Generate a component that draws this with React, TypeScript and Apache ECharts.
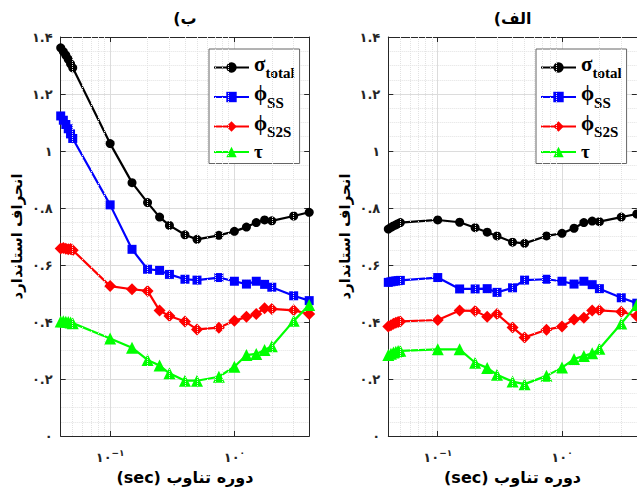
import React, { useEffect, useRef } from "react";
import * as echarts from "echarts";

// Periods (sec)
const periods = [0.04, 0.042, 0.044, 0.046, 0.048, 0.05, 0.1, 0.15, 0.2, 0.25, 0.3, 0.4, 0.5, 0.75, 1, 1.25, 1.5, 1.75, 2, 3, 4];

// Panel "ب" (left)
const sigmaB = [1.362, 1.349, 1.336, 1.322, 1.306, 1.292, 1.026, 0.889, 0.819, 0.768, 0.739, 0.706, 0.69, 0.704, 0.718, 0.733, 0.749, 0.758, 0.755, 0.772, 0.785];
const phiSSB = [1.123, 1.108, 1.093, 1.078, 1.06, 1.044, 0.811, 0.655, 0.585, 0.581, 0.567, 0.55, 0.547, 0.556, 0.543, 0.533, 0.543, 0.532, 0.522, 0.492, 0.475];
const phiS2SB = [0.658, 0.66, 0.657, 0.655, 0.656, 0.652, 0.526, 0.515, 0.509, 0.44, 0.421, 0.402, 0.374, 0.38, 0.404, 0.418, 0.428, 0.448, 0.446, 0.441, 0.428];
const tauB = [0.402, 0.403, 0.401, 0.4, 0.398, 0.396, 0.342, 0.31, 0.267, 0.247, 0.22, 0.194, 0.194, 0.208, 0.243, 0.284, 0.288, 0.302, 0.315, 0.404, 0.46];

// Panel "الف" (right)
const sigmaA = [0.726, 0.732, 0.737, 0.741, 0.745, 0.749, 0.758, 0.75, 0.731, 0.715, 0.702, 0.68, 0.676, 0.702, 0.711, 0.729, 0.749, 0.754, 0.752, 0.768, 0.779];
const phiSSA = [0.539, 0.541, 0.543, 0.544, 0.545, 0.546, 0.556, 0.516, 0.516, 0.517, 0.504, 0.52, 0.547, 0.55, 0.543, 0.533, 0.543, 0.531, 0.517, 0.485, 0.466];
const phiS2SA = [0.384, 0.389, 0.394, 0.397, 0.4, 0.402, 0.407, 0.44, 0.439, 0.418, 0.428, 0.381, 0.346, 0.373, 0.384, 0.409, 0.415, 0.44, 0.441, 0.436, 0.421];
const tauA = [0.284, 0.289, 0.293, 0.296, 0.298, 0.299, 0.304, 0.304, 0.257, 0.239, 0.215, 0.191, 0.182, 0.211, 0.24, 0.27, 0.281, 0.29, 0.306, 0.395, 0.46];

// Minor vertical grid positions (log decades 2..9)
const minorX = [0.05, 0.06, 0.07, 0.08, 0.09, 0.2, 0.3, 0.4, 0.5, 0.6, 0.7, 0.8, 0.9, 2, 3];

const seriesNames = ["sigma", "phiSS", "phiS2S", "tau"];
const seriesColors = ["#000000", "#0000ff", "#ff0000", "#00ff00"];
const seriesSymbols = ["circle", "rect", "diamond", "triangle"];
const seriesSymbolSizes = [9, 9, 12, 12];

const titles = ["(ب", "(الف"];
const yName = "انحراف استاندارد";
const xName = "(sec) دوره تناوب";

const faDigits = "۰۱۲۳۴۵۶۷۸۹";
const toFa = (s: string) => s.replace(/[0-9]/g, (d) => faDigits[+d]);

const FA_FONT = "'DejaVu Sans', sans-serif";
const SERIF = "'Liberation Serif', serif";

export default function App() {
  const ref = useRef<HTMLDivElement>(null);
  useEffect(() => {
    if (!ref.current) return;
    const chart = echarts.init(ref.current, null, { renderer: "svg" });

    const panels = [
      { data: [sigmaB, phiSSB, phiS2SB, tauB], left: 60.7, legendLeft: 209 },
      { data: [sigmaA, phiSSA, phiS2SA, tauA], left: 388.3, legendLeft: 536 },
    ];
    const gw = 248.5;
    const gTop = 37;
    const gH = 399;

    const grids: any[] = [];
    const xAxes: any[] = [];
    const yAxes: any[] = [];
    const series: any[] = [];
    const legends: any[] = [];
    const graphics: any[] = [];

    const xLabelFmt = (v: number) => {
      const l = Math.log10(v);
      const e = Math.round(l);
      if (Math.abs(l - e) > 1e-6) return "";
      return "{b|۱۰}{sup|" + (e < 0 ? "−" : "") + toFa(String(Math.abs(e))) + "}";
    };
    const yLabelFmt = (v: number) => toFa(String(Math.round(v * 10) / 10));

    const legendFmt = (name: string) => {
      if (name === "sigma") return "{m|σ}{s|total}";
      if (name === "phiSS") return "{m|ϕ}{s|SS}";
      if (name === "phiS2S") return "{m|ϕ}{s|S2S}";
      return "{t|τ}";
    };

    panels.forEach((p, gi) => {
      grids.push({ left: p.left, top: gTop, width: gw, height: gH, containLabel: false });
      const axisLine = { show: true, onZero: false, lineStyle: { color: "#262626", width: 1 } };
      xAxes.push({
        type: "log",
        gridIndex: gi,
        position: "bottom",
        min: 0.04,
        max: 4,
        logBase: 10,
        axisLine,
        axisTick: { show: true, inside: true, length: 5, lineStyle: { color: "#262626" } },
        axisLabel: {
          show: true,
          showMinLabel: false,
          showMaxLabel: false,
          margin: 12,
          formatter: xLabelFmt,
          rich: {
            b: { fontFamily: FA_FONT, fontWeight: "bold", fontSize: 13, color: "#262626" },
            sup: { fontFamily: FA_FONT, fontWeight: "bold", fontSize: 9, color: "#262626", padding: [0, 0, 9, 0] },
          },
        },
        splitLine: { show: true, lineStyle: { color: "#dcdcdc", width: 1 } },
        name: xName,
        nameLocation: "middle",
        nameGap: 33,
        nameTextStyle: { fontFamily: FA_FONT, fontWeight: "bold", fontSize: 16, color: "#000" },
      });
      xAxes.push({
        type: "log",
        gridIndex: gi,
        position: "top",
        min: 0.04,
        max: 4,
        logBase: 10,
        axisLine,
        axisTick: { show: true, inside: true, length: 5, lineStyle: { color: "#262626" } },
        axisLabel: { show: false },
        splitLine: { show: false },
      });
      yAxes.push({
        type: "value",
        gridIndex: gi,
        position: "left",
        min: 0,
        max: 1.4,
        interval: 0.2,
        axisLine,
        axisTick: { show: true, inside: true, length: 5, lineStyle: { color: "#262626" } },
        axisLabel: {
          show: true,
          margin: 8,
          formatter: yLabelFmt,
          fontFamily: FA_FONT,
          fontWeight: "bold",
          fontSize: 13,
          color: "#262626",
        },
        splitLine: { show: true, lineStyle: { color: "#dcdcdc", width: 1 } },
        minorTick: { show: false, splitNumber: 4 },
        minorSplitLine: { show: true, lineStyle: { color: "#e2e2e2", type: "dotted", width: 1 } },
        name: yName,
        nameLocation: "middle",
        nameGap: 36,
        nameTextStyle: { fontFamily: FA_FONT, fontWeight: "bold", fontSize: 15, color: "#000" },
      });
      yAxes.push({
        type: "value",
        gridIndex: gi,
        position: "right",
        min: 0,
        max: 1.4,
        interval: 0.2,
        axisLine,
        axisTick: { show: true, inside: true, length: 5, lineStyle: { color: "#262626" } },
        axisLabel: { show: false },
        splitLine: { show: false },
      });

      // minor vertical dotted grid lines
      series.push({
        type: "line",
        xAxisIndex: gi * 2,
        yAxisIndex: gi * 2,
        data: [],
        silent: true,
        z: 1,
        markLine: {
          silent: true,
          symbol: ["none", "none"],
          label: { show: false },
          lineStyle: { color: "#e2e2e2", type: "dotted", width: 1 },
          data: minorX.map((v) => ({ xAxis: v })),
        },
      });

      p.data.forEach((vals, si) => {
        series.push({
          type: "line",
          name: seriesNames[si],
          xAxisIndex: gi * 2,
          yAxisIndex: gi * 2,
          data: periods.map((t, i) => [t, vals[i]]),
          symbol: seriesSymbols[si],
          symbolSize: seriesSymbolSizes[si],
          showAllSymbol: true,
          itemStyle: { color: seriesColors[si] },
          lineStyle: { color: seriesColors[si], width: 2.2 },
          z: 3,
        });
      });

      legends.push({
        orient: "vertical",
        left: p.legendLeft,
        top: 49,
        data: seriesNames,
        itemWidth: 35,
        itemHeight: 13,
        itemGap: 2,
        padding: [4, 5, 3, 4],
        borderColor: "#666",
        borderWidth: 1,
        backgroundColor: "#fff",
        selectedMode: false,
        formatter: legendFmt,
        textStyle: {
          color: "#000",
          rich: {
            m: { fontFamily: SERIF, fontWeight: "bold", fontSize: 21, color: "#000", padding: [0, 0, 8, 0] },
            s: { fontFamily: SERIF, fontWeight: "bold", fontSize: 15, color: "#000", padding: [11, 0, 0, 0] },
            t: { fontFamily: SERIF, fontWeight: "bold", fontSize: 19, color: "#000", padding: [0, 0, 2, 0] },
          },
        },
      });

      graphics.push({
        type: "text",
        x: p.left + gw / 2,
        y: 18,
        style: {
          text: titles[gi],
          align: "center",
          verticalAlign: "middle",
          fontFamily: FA_FONT,
          fontWeight: "bold",
          fontSize: 16,
          fill: "#000",
        },
      });
    });

    chart.setOption({
      animation: false,
      backgroundColor: "#fff",
      grid: grids,
      xAxis: xAxes,
      yAxis: yAxes,
      series,
      legend: legends,
      graphic: graphics,
    });
    return () => chart.dispose();
  }, []);
  return <div ref={ref} style={{ position: "fixed", left: 0, top: 0, width: 637, height: 492 }} />;
}
